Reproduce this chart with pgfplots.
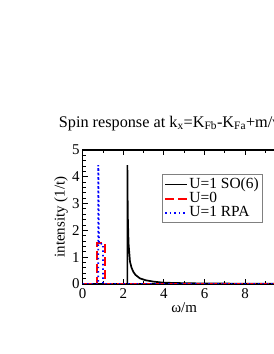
\documentclass[border=0pt]{standalone}
\usepackage{pgfplots}
\pgfplotsset{compat=1.18}
\usepackage{fontspec}
\setmainfont{Liberation Serif}
\begin{document}
\fontsize{15}{18}\selectfont
\begin{tikzpicture}[x=1bp,y=1bp]
\begin{axis}[
  at={(0,0)}, anchor=south west,
  scale only axis, width=203bp, height=134bp,
  xmin=0, xmax=10, ymin=0, ymax=5,
  xtick={0,2,4,6,8,10}, minor x tick num=1,
  ytick={0,1,2,3,4,5}, minor y tick num=4,
  tick align=inside, xtick pos=both, ytick pos=left,
  major tick length=5bp, minor tick length=3bp,
  axis line style={line width=1.2pt}, tick style={line width=1pt,black},
  /pgf/number format/assume math mode=true,
  ticklabel style={font=\fontsize{15}{18}\selectfont},
  xticklabel style={yshift=1bp},
  yticklabel style={xshift=2bp},
  xlabel={ω/m}, ylabel={intensity (1/t)},
  label style={font=\fontsize{15}{18}\selectfont},
  xlabel style={yshift=6bp}, ylabel style={yshift=-6bp},
  title={Spin response at k\textsubscript{x}=K\textsubscript{Fb}-K\textsubscript{Fa}+m/v\textsubscript{F}},
  title style={font=\fontsize{16.3}{18}\selectfont, at={(0,1)}, anchor=south west, xshift=-29bp, yshift=8bp},
  legend style={at={(0.39,0.82)}, anchor=north west, draw=gray, line width=0.7pt,
    font=\fontsize{15.5}{15.5}\selectfont, inner xsep=2pt, inner ysep=2pt, row sep=-1.5pt,
    nodes={inner sep=1.5pt}},
  legend cell align=left,
  legend image code/.code={\draw[#1] (0bp,0bp) -- (22bp,0bp);},
  clip=true,
]
\addplot[black, line width=1.7pt] coordinates {
 (0,0) (2.2,0) (2.2,4.44) (2.22,2.6) (2.26,1.5) (2.33,0.83) (2.4,0.62) (2.49,0.46) (2.6,0.34) (2.82,0.21) (3.1,0.14) (3.48,0.09) (3.96,0.05) (5,0.03) (6,0.02) (8,0.012) (10,0.01)};
\addlegendentry{U=1 SO(6)}
\addplot[red, line width=1.7pt, dash pattern=on 9pt off 4pt] coordinates {
 (0,0) (0.72,0) (0.72,1.53) (1.1,1.53) (1.1,0) (10,0)};
\addlegendentry{U=0}
\addplot[blue, line width=1.8pt, dash pattern=on 1.5pt off 3pt] coordinates {
 (0,0) (0.77,0) (0.77,4.44) (0.8,1.5) (1.0,1.5) (1.0,0) (10,0)};
\addlegendentry{U=1 RPA}
\end{axis}
\pgfresetboundingbox
\useasboundingbox (-82.7bp,-70bp) rectangle (191.3bp,284bp);
\end{tikzpicture}
\end{document}
